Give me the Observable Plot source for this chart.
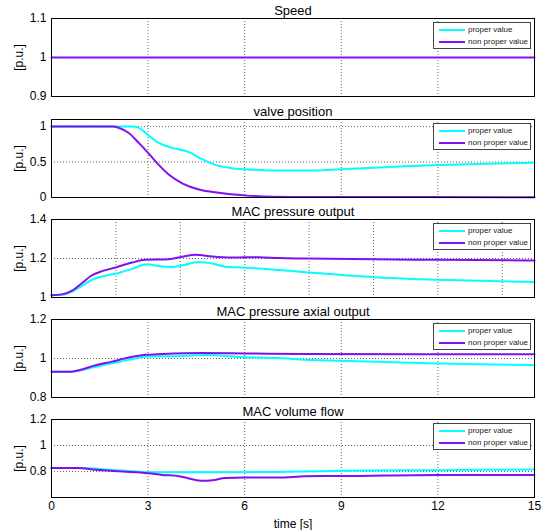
<!DOCTYPE html>
<html><head><meta charset="utf-8">
<script src="https://cdn.jsdelivr.net/npm/d3@7"></script>
<script src="https://cdn.jsdelivr.net/npm/@observablehq/plot@0.6"></script>
<style>
body{margin:0;background:#fff;}
#wrap{position:relative;width:546px;height:530px;font-family:"Liberation Sans",Arial,Helvetica,sans-serif;overflow:hidden;}
.panel{position:absolute;left:0;}
.legend{position:absolute;left:433px;width:96px;height:25px;border:1px solid #444;background:#fff;font-size:8px;color:#222;}
.row{position:absolute;left:0;height:12px;line-height:12px;white-space:nowrap;}
.sw{position:absolute;left:5px;top:5px;width:26px;height:2px;}
.lt{position:absolute;left:34px;top:0;}
</style>
</head><body>
<div id="wrap"></div>
<script>
// ---- data ----
const seriesNames = ["proper value", "non proper value"];
const seriesColors = ["#00ffff", "#8010f0"];
const titles = ["Speed", "valve position", "MAC pressure output", "MAC pressure axial output", "MAC volume flow"];
const xTicks = [0, 3, 6, 9, 12, 15];

// Speed
const speedT = [0, 15];
const speedProper = [1, 1];
const speedNon = [1, 1];

// Valve position
const valveTP = [0, 2.5, 2.7, 2.82, 3.0, 3.33, 3.75, 4.27, 4.68, 5.09, 5.6, 6.0, 7.06, 7.9, 9, 10.5, 12, 13.5, 15];
const valveProper = [1, 1, 0.985, 0.95, 0.88, 0.77, 0.70, 0.64, 0.54, 0.46, 0.414, 0.40, 0.38, 0.38, 0.40, 0.43, 0.46, 0.475, 0.49];
const valveTN = [0, 1.9, 2.1, 2.4, 2.71, 3.0, 3.33, 3.65, 4.06, 4.58, 5.2, 6.0, 6.85, 8, 15];
const valveNon = [1, 1, 0.98, 0.91, 0.77, 0.63, 0.46, 0.32, 0.20, 0.114, 0.067, 0.03, 0.012, 0.006, 0.005];

// MAC pressure output
const presTP = [0, 0.33, 0.64, 0.95, 1.26, 1.68, 2.09, 2.5, 2.97, 3.33, 3.75, 4.06, 4.58, 4.99, 5.4, 6.02, 6.85, 7.89, 10, 12, 15];
const presProper = [1.012, 1.014, 1.03, 1.06, 1.091, 1.112, 1.126, 1.147, 1.17, 1.161, 1.156, 1.165, 1.182, 1.174, 1.158, 1.153, 1.144, 1.13, 1.104, 1.091, 1.079];
const presTN = [0, 0.33, 0.64, 0.95, 1.21, 1.57, 1.97, 2.5, 2.92, 3.64, 4.06, 4.47, 4.99, 5.61, 6.44, 7.06, 7.89, 10, 12, 15];
const presNon = [1.012, 1.016, 1.035, 1.074, 1.109, 1.135, 1.153, 1.179, 1.193, 1.196, 1.209, 1.219, 1.21, 1.205, 1.207, 1.202, 1.2, 1.196, 1.193, 1.19];

// MAC pressure axial output
const axTP = [0, 0.6, 1.37, 1.88, 2.4, 3.0, 3.96, 4.78, 6.0, 7.06, 7.9, 9, 12, 15];
const axProper = [0.932, 0.932, 0.958, 0.975, 0.993, 1.01, 1.012, 1.018, 1.007, 1.002, 0.993, 0.988, 0.974, 0.966];
const axTN = [0, 0.6, 0.85, 1.37, 1.88, 2.4, 2.92, 3.44, 4.68, 6.0, 7.9, 15];
const axNon = [0.932, 0.932, 0.94, 0.965, 0.984, 1.005, 1.019, 1.023, 1.028, 1.026, 1.023, 1.022];

// MAC volume flow
const flowTP = [0, 0.9, 1.88, 3.0, 4.0, 6.0, 7.9, 9, 12, 15];
const flowProper = [0.826, 0.826, 0.813, 0.795, 0.795, 0.795, 0.8, 0.805, 0.81, 0.815];
const flowTN = [0, 0.8, 1.37, 2.2, 3.0, 3.44, 3.96, 4.3, 4.7, 5.0, 5.4, 6.0, 7.06, 7.9, 9, 12, 15];
const flowNon = [0.826, 0.826, 0.813, 0.8, 0.787, 0.774, 0.764, 0.745, 0.728, 0.733, 0.75, 0.753, 0.753, 0.764, 0.765, 0.774, 0.774];

const yDomains = [[0.9, 1.1], [0, 1.1], [1, 1.4], [0.8, 1.2], [0.6, 1.2]];
const yTicks = [[0.9, 1, 1.1], [0, 0.5, 1], [1, 1.2, 1.4], [0.8, 1, 1.2], [0.8, 1, 1.2]];
const xGrid = [[3, 6, 9, 12], [3, 6, 9, 12], [2, 4, 6, 8, 10, 12, 14], [3, 6, 9, 12], [3, 6, 9, 12]];

const panels = [
  [speedT, speedProper, speedT, speedNon],
  [valveTP, valveProper, valveTN, valveNon],
  [presTP, presProper, presTN, presNon],
  [axTP, axProper, axTN, axNon],
  [flowTP, flowProper, flowTN, flowNon]
];
const tops = [0, 101, 201, 301, 401];

const wrap = document.getElementById("wrap");
const toRows = (ts, vs) => ts.map((t, k) => ({t, v: vs[k]}));

panels.forEach((p, i) => {
  const last = i === 4;
  const proper = toRows(p[0], p[1]);
  const non = toRows(p[2], p[3]);
  const chart = Plot.plot({
    width: 546,
    height: last ? 129 : 101,
    marginLeft: 51, marginRight: 12, marginTop: 18, marginBottom: last ? 33 : 5,
    style: {fontFamily: "'Liberation Sans', Arial, sans-serif", fontSize: "12px", color: "#000", background: "transparent", overflow: "visible"},
    x: {domain: [0, 15], axis: null},
    y: {domain: yDomains[i]},
    marks: [
      Plot.gridX(xGrid[i], {stroke: "#666", strokeOpacity: 1, strokeDasharray: "1,2"}),
      Plot.gridY(yTicks[i], {stroke: "#666", strokeOpacity: 1, strokeDasharray: "1,2"}),
      Plot.line(proper, {x: "t", y: "v", stroke: seriesColors[0], strokeWidth: i === 0 ? 1 : 2, curve: "monotone-x"}),
      Plot.line(non, {x: "t", y: "v", stroke: seriesColors[1], strokeWidth: 2, curve: "monotone-x"}),
      Plot.frame({stroke: "#000", strokeWidth: 1}),
      Plot.axisY(yTicks[i], {tickSize: 0, tickPadding: 5, tickFormat: d => String(d), label: "[p.u.]", labelAnchor: "center", labelArrow: "none", labelOffset: 37, fontSize: 12}),
      last ? Plot.axisX(xTicks, {tickSize: 0, tickPadding: 4, tickFormat: d => String(d), label: "time [s]", labelAnchor: "center", labelArrow: "none", labelOffset: 30, fontSize: 12}) : null,
      Plot.text([titles[i]], {frameAnchor: "top", lineAnchor: "middle", dy: -8, fontSize: 13, fill: "#000"})
    ]
  });
  const div = document.createElement("div");
  div.className = "panel";
  div.style.top = tops[i] + "px";
  div.appendChild(chart);
  wrap.appendChild(div);

  const lg = document.createElement("div");
  lg.className = "legend";
  lg.style.top = (tops[i] + 18 + 4) + "px";
  seriesNames.forEach((name, k) => {
    const r = document.createElement("div");
    r.className = "row";
    r.style.top = (1 + k * 12) + "px";
    const sw = document.createElement("span");
    sw.className = "sw";
    sw.style.background = seriesColors[k];
    const lt = document.createElement("span");
    lt.className = "lt";
    lt.textContent = name;
    r.appendChild(sw); r.appendChild(lt);
    lg.appendChild(r);
  });
  wrap.appendChild(lg);
});
</script>
</body></html>
